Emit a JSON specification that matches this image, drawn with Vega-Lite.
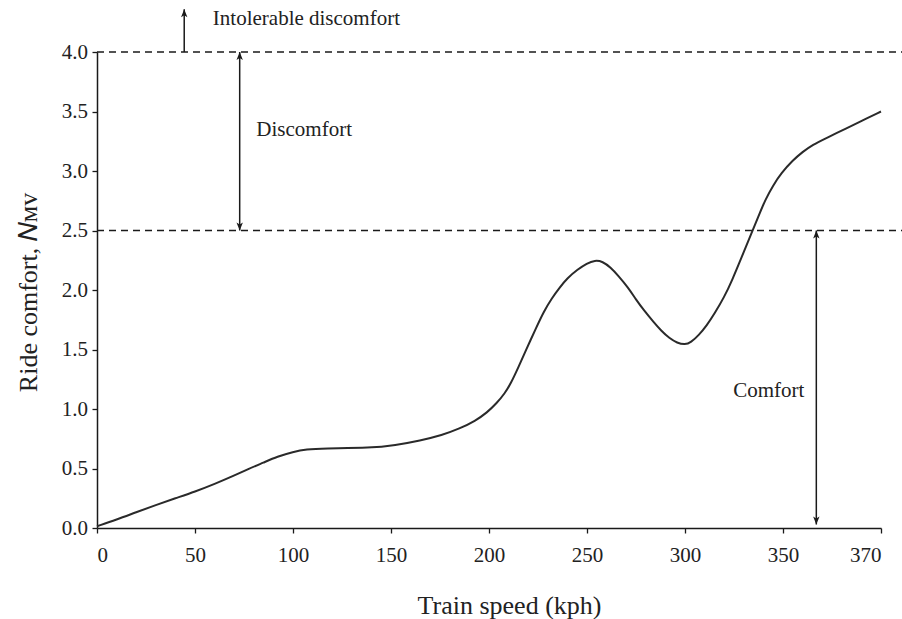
{
  "$schema": "https://vega.github.io/schema/vega-lite/v6.json",
  "autosize": {"type": "none"},
  "padding": {"left": 97, "top": 52, "right": 21, "bottom": 91},
  "width": 784,
  "height": 476,
  "background": "white",
  "config": {
    "view": {"stroke": null},
    "font": "Liberation Serif",
    "axis": {
      "grid": false,
      "domainColor": "#1a1a1a",
      "domainWidth": 1.5,
      "tickColor": "#1a1a1a",
      "tickWidth": 1.3,
      "tickSize": 5,
      "labelFont": "Liberation Serif",
      "labelFontSize": 21,
      "labelColor": "#222",
      "titleFont": "Liberation Serif",
      "titleFontSize": 26,
      "titleFontWeight": "normal",
      "titleColor": "#222"
    }
  },
  "datasets": {
    "curve": [
      {"speed": 0, "nmv": 0.015},
      {"speed": 10, "nmv": 0.07},
      {"speed": 20, "nmv": 0.133},
      {"speed": 30, "nmv": 0.193},
      {"speed": 40, "nmv": 0.25},
      {"speed": 50, "nmv": 0.305},
      {"speed": 60, "nmv": 0.37},
      {"speed": 70, "nmv": 0.44},
      {"speed": 77, "nmv": 0.495},
      {"speed": 85, "nmv": 0.55},
      {"speed": 92, "nmv": 0.6},
      {"speed": 100, "nmv": 0.64},
      {"speed": 107, "nmv": 0.662},
      {"speed": 115, "nmv": 0.67},
      {"speed": 140, "nmv": 0.672},
      {"speed": 152, "nmv": 0.695},
      {"speed": 165, "nmv": 0.735},
      {"speed": 176, "nmv": 0.78},
      {"speed": 185, "nmv": 0.835},
      {"speed": 193, "nmv": 0.9},
      {"speed": 199, "nmv": 0.97},
      {"speed": 204, "nmv": 1.05},
      {"speed": 208, "nmv": 1.13},
      {"speed": 211, "nmv": 1.21},
      {"speed": 215, "nmv": 1.35},
      {"speed": 219, "nmv": 1.5},
      {"speed": 224, "nmv": 1.68},
      {"speed": 228, "nmv": 1.82},
      {"speed": 232, "nmv": 1.93},
      {"speed": 236, "nmv": 2.02},
      {"speed": 240, "nmv": 2.1},
      {"speed": 245, "nmv": 2.17},
      {"speed": 250, "nmv": 2.225},
      {"speed": 254, "nmv": 2.25},
      {"speed": 258, "nmv": 2.24},
      {"speed": 262, "nmv": 2.19},
      {"speed": 266, "nmv": 2.12},
      {"speed": 271, "nmv": 2.02},
      {"speed": 275, "nmv": 1.92},
      {"speed": 279, "nmv": 1.83},
      {"speed": 284, "nmv": 1.73},
      {"speed": 288, "nmv": 1.655},
      {"speed": 292, "nmv": 1.595},
      {"speed": 296, "nmv": 1.555},
      {"speed": 300, "nmv": 1.54},
      {"speed": 303, "nmv": 1.56},
      {"speed": 307, "nmv": 1.62},
      {"speed": 311, "nmv": 1.7},
      {"speed": 315, "nmv": 1.8},
      {"speed": 320, "nmv": 1.94},
      {"speed": 324, "nmv": 2.08},
      {"speed": 329, "nmv": 2.28},
      {"speed": 334, "nmv": 2.48},
      {"speed": 338, "nmv": 2.64},
      {"speed": 341, "nmv": 2.76},
      {"speed": 345, "nmv": 2.88},
      {"speed": 349, "nmv": 2.98},
      {"speed": 352, "nmv": 3.09},
      {"speed": 354, "nmv": 3.16},
      {"speed": 356, "nmv": 3.22},
      {"speed": 359, "nmv": 3.28},
      {"speed": 363, "nmv": 3.36},
      {"speed": 366, "nmv": 3.42},
      {"speed": 370, "nmv": 3.5}
    ],
    "limits": [
      {"level": 4.0, "from": 0, "to": 375},
      {"level": 2.5, "from": 0, "to": 375}
    ],
    "shafts": [
      {"speed": 44.5, "lo": 4.0, "hi": 4.36},
      {"speed": 72.8, "lo": 2.5, "hi": 4.0},
      {"speed": 356.8, "lo": 0.03, "hi": 2.5}
    ],
    "heads": [
      {"speed": 44.5, "nmv": 4.36, "dir": "up"},
      {"speed": 72.8, "nmv": 4.0, "dir": "up"},
      {"speed": 72.8, "nmv": 2.5, "dir": "down"},
      {"speed": 356.8, "nmv": 2.5, "dir": "up"},
      {"speed": 356.8, "nmv": 0.03, "dir": "down"}
    ],
    "zones": [
      {"speed": 59.1, "nmv": 4.224, "zone": "Intolerable discomfort"},
      {"speed": 81.3, "nmv": 3.297, "zone": "Discomfort"},
      {"speed": 324.6, "nmv": 1.104, "zone": "Comfort"}
    ]
  },
  "encoding": {
    "x": {
      "field": "speed",
      "type": "quantitative",
      "scale": {"domain": [0, 350, 370], "range": [0, 686, 784], "nice": false, "zero": false},
      "axis": {
        "title": "Train speed (kph)",
        "values": [0, 50, 100, 150, 200, 250, 300, 350, 370],
        "labelBaseline": "alphabetic",
        "labelPadding": 28,
        "titleBaseline": "alphabetic",
        "titleAlign": "center",
        "titleX": 412,
        "titleY": 85
      }
    },
    "y": {
      "field": "nmv",
      "type": "quantitative",
      "scale": {"domain": [0, 4], "nice": false},
      "axis": {
        "title": "Ride comfort, 𝑁ᴍᴠ",
        "values": [0, 0.5, 1, 1.5, 2, 2.5, 3, 3.5, 4],
        "format": ".1f",
        "labelPadding": 4.5,
        "titleAngle": 270,
        "titleBaseline": "alphabetic",
        "titleAlign": "center",
        "titleX": -61,
        "titleY": 240
      }
    }
  },
  "layer": [
    {
      "data": {"name": "limits"},
      "mark": {"type": "rule", "strokeDash": [7, 5], "strokeWidth": 1.3, "color": "#1a1a1a"},
      "encoding": {
        "x": {"field": "from", "type": "quantitative"},
        "x2": {"field": "to"},
        "y": {"field": "level", "type": "quantitative"}
      }
    },
    {
      "data": {"name": "curve"},
      "mark": {"type": "line", "interpolate": "basis", "strokeWidth": 2, "color": "#2a2a2a"},
      "encoding": {}
    },
    {
      "data": {"name": "shafts"},
      "mark": {"type": "rule", "strokeWidth": 1.5, "color": "#1a1a1a"},
      "encoding": {
        "y": {"field": "lo", "type": "quantitative"},
        "y2": {"field": "hi"}
      }
    },
    {
      "data": {"name": "heads"},
      "mark": {"type": "point", "filled": true, "size": 256, "opacity": 1, "color": "#1a1a1a"},
      "encoding": {
        "shape": {
          "field": "dir",
          "type": "nominal",
          "scale": {"domain": ["up", "down"], "range": ["M0,0L-0.4,1L0,0.75L0.4,1Z", "M0,0L-0.4,-1L0,-0.75L0.4,-1Z"]},
          "legend": null
        }
      }
    },
    {
      "data": {"name": "zones"},
      "mark": {"type": "text", "align": "left", "baseline": "alphabetic", "fontSize": 21, "font": "Liberation Serif", "color": "#222"},
      "encoding": {
        "text": {"field": "zone"}
      }
    }
  ]
}
